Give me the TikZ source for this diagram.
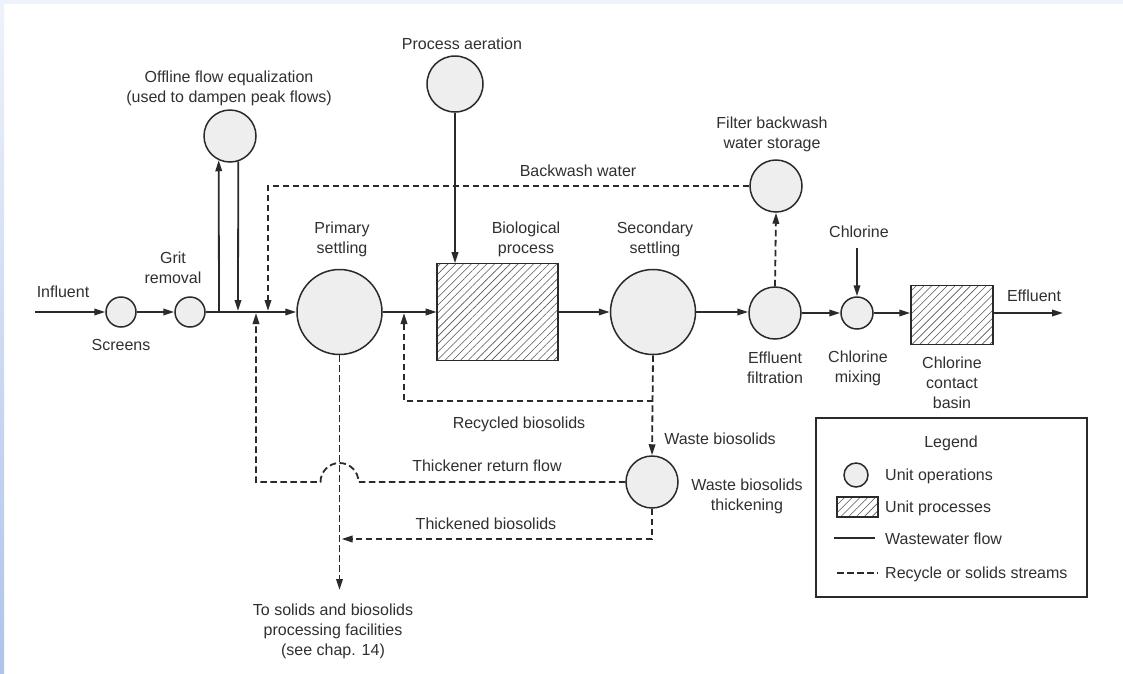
\documentclass[tikz,border=0pt]{standalone}
\usepackage{fontspec}
\setmainfont{Liberation Sans}
\usetikzlibrary{arrows.meta,patterns.meta,calc}
\definecolor{ink}{HTML}{2A2A2A}
\definecolor{txt}{HTML}{303030}
\definecolor{hatch}{HTML}{555555}
\definecolor{fillg}{HTML}{EEEEEE}
\definecolor{edgetop}{HTML}{EEF2FA}
\definecolor{edgebot}{HTML}{AFC3EB}
\begin{document}
\begin{tikzpicture}[x=1pt,y=-1pt,
  unitop/.style={circle,draw=ink,fill=fillg,line width=1.5pt,inner sep=0pt,minimum size=#1},
  procbox/.style={draw=ink,line width=1.5pt,inner sep=0pt,
    pattern={Lines[angle=45,distance=5.5pt,line width=0.6pt]},pattern color=hatch},
  flow/.style={draw=ink,line width=1.8pt,-{Triangle[length=11pt,width=6.5pt]}},
  plainflow/.style={draw=ink,line width=1.8pt},
  rec/.style={draw=ink,line width=1.8pt,dash pattern=on 6.5pt off 3.5pt},
  recarrow/.style={rec,-{Triangle[length=11pt,width=6.5pt]}},
  lbl/.style={text=txt,font=\fontsize{16}{20}\selectfont,align=center,inner sep=0pt},
  lblw/.style={lbl,anchor=west,align=left}]
% canvas
\useasboundingbox (0,0) rectangle (1123,673);
\fill[white] (0,0) rectangle (1123,673);
\fill[edgetop] (0,0) rectangle (1123,4);
\shade[top color=edgetop,bottom color=edgebot] (0,0) rectangle (4,673);

% ---- unit operations (circles) ----
\node[unitop=30] (screens) at (121,312) {};
\node[unitop=30] (grit) at (190,312) {};
\node[unitop=52] (offline) at (230,136) {};
\node[unitop=85] (primary) at (339.5,312) {};
\node[unitop=56] (aer) at (455,84) {};
\node[unitop=85] (secondary) at (653,312) {};
\node[unitop=52] (filtration) at (775,313) {};
\node[unitop=52] (storage) at (776,186) {};
\node[unitop=32] (mixing) at (857,313) {};
\node[unitop=52] (thick) at (652,482) {};

% ---- unit processes (hatched boxes) ----
\node[procbox,minimum width=121pt,minimum height=97pt] (bio) at (497.5,312) {};
\node[procbox,minimum width=82pt,minimum height=59pt] (contact) at (952,315) {};

% ---- free ends / junctions ----
\coordinate (inf) at (35,312);
\coordinate (eff) at (1063,313);
\coordinate (jup) at (219,312);
\coordinate (jdown) at (238,311);
\coordinate (jback) at (268,311);
\coordinate (jret) at (256,313);
\coordinate (jrec) at (404,313);
\coordinate (cl) at (857,248);
\coordinate (tosolids) at (339.5,590);

% ---- wastewater flow ----
\draw[flow] (inf) -- (screens);
\draw[flow] (screens) -- (grit);
\draw[flow] (grit) -- (primary);
\draw[flow] (jup) -- (offline.-115);
\draw[flow] (offline.-72) -- (jdown);
\draw[flow] (primary) -- (bio);
\draw[flow] (aer.south) -- (aer.south |- bio.north);
\draw[flow] (bio) -- (secondary);
\draw[flow] (secondary) -- (secondary -| filtration.west);
\draw[flow] (filtration) -- (mixing);
\draw[flow] (mixing) -- (mixing -| contact.west);
\draw[flow] (contact.east |- eff) -- (eff);
\draw[flow] (cl) -- (mixing.north);

% ---- recycle / solids streams ----
\draw[recarrow] (filtration.north) -- (storage.south);
\draw[recarrow] (storage.west) -- (jback |- storage.west) -- (jback);
\draw[recarrow] (secondary.south) -- (thick.north);
\draw[recarrow] (secondary.south |- 0,401) -- (404,401) -- (jrec);
\draw[recarrow] (primary.south) -- (tosolids);
\draw[recarrow] (thick.west) -- (358.5,482) arc[start angle=0,end angle=-180,radius=19] -- (256,482) -- (jret);
\draw[recarrow] (thick.south) -- (652,539) -- (341.5,539);

% ---- labels ----
\node[lbl] at (63,292) {Influent};
\node[lbl] at (121,345) {Screens};
\node[lbl] at (173,268) {Grit\\removal};
\node[lbl] at (229,88) {Offline flow equalization\\(used to dampen peak flows)};
\node[lbl] at (462,44) {Process aeration};
\node[lbl] at (342,239) {Primary\\settling};
\node[lbl] at (526,239) {Biological\\process};
\node[lbl] at (655,239) {Secondary\\settling};
\node[lbl] at (578,171) {Backwash water};
\node[lbl] at (772,134) {Filter backwash\\water storage};
\node[lbl] at (859,232) {Chlorine};
\node[lbl] at (1034,296) {Effluent};
\node[lbl] at (775,368) {Effluent\\filtration};
\node[lbl] at (858,368) {Chlorine\\mixing};
\node[lbl] at (952,383) {Chlorine\\contact\\basin};
\node[lbl] at (519,424) {Recycled biosolids};
\node[lbl] at (720,439) {Waste biosolids};
\node[lbl] at (487,466) {Thickener return flow};
\node[lbl] at (747,496) {Waste biosolids\\thickening};
\node[lbl] at (486,524) {Thickened biosolids};
\node[lbl] at (333,631) {To solids and biosolids\\processing facilities\\(see chap. 14)};

% ---- legend ----
\node[draw=ink,line width=1.5pt,minimum width=271pt,minimum height=179pt,inner sep=0pt] (legend) at (951.5,507.5) {};
\node[lbl] (legtitle) at (951,443) {Legend};
\node[unitop=24] (legop) at (856,475) {};
\node[lblw] (legoptxt) at (885,476) {Unit operations};
\node[procbox,minimum width=41pt,minimum height=20pt] (legproc) at (857.5,507) {};
\node[lblw] (legproctxt) at (885,508) {Unit processes};
\coordinate (legw1) at (834,538);
\coordinate (legw2) at (875,538);
\draw[plainflow] (legw1) -- (legw2);
\node[lblw] (legwtxt) at (885,539) {Wastewater flow};
\coordinate (legr1) at (837,573);
\coordinate (legr2) at (878,573);
\draw[rec] (legr1) -- (legr2);
\node[lblw] (legrtxt) at (885,574) {Recycle or solids streams};
\end{tikzpicture}
\end{document}
